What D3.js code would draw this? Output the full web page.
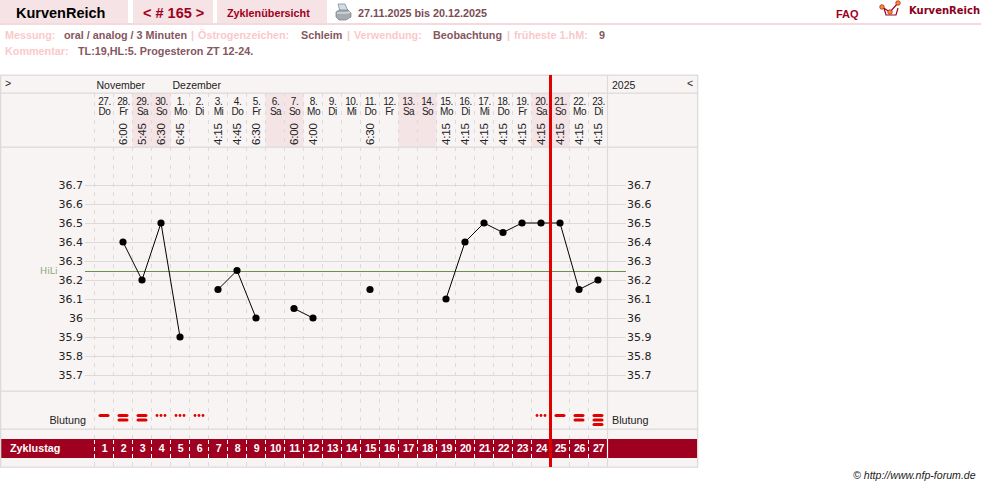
<!DOCTYPE html>
<html lang="de">
<head>
<meta charset="utf-8">
<title>KurvenReich</title>
<script src="https://cdn.jsdelivr.net/npm/d3@7"></script>
<style>
html,body{margin:0;padding:0;background:#fff;overflow:hidden}
svg{display:block}
text{font-family:"Liberation Sans",Arial,sans-serif}
</style>
</head>
<body>
<div id="chart"></div>
<script>
// Zyklusdaten
const cycleDays = d3.range(1, 28);
const dateNumbers = ["27.","28.","29.","30.","1.","2.","3.","4.","5.","6.","7.","8.","9.","10.","11.","12.","13.","14.","15.","16.","17.","18.","19.","20.","21.","22.","23."];
const weekdays = ["Do","Fr","Sa","So","Mo","Di","Mi","Do","Fr","Sa","So","Mo","Di","Mi","Do","Fr","Sa","So","Mo","Di","Mi","Do","Fr","Sa","So","Mo","Di"];
const wakeTimes = ["","6:00","5:45","6:30","6:45","","4:15","4:45","6:30","","6:00","4:00","","","6:30","","","","4:15","4:15","4:15","4:15","4:15","4:15","4:15","4:15","4:15"];
const temperatures = [null,36.4,36.2,36.5,35.9,null,36.15,36.25,36.0,null,36.05,36.0,null,null,36.15,null,null,null,36.1,36.4,36.5,36.45,36.5,36.5,36.5,36.15,36.2];
const bleeding = ["1","2","2","s","s","s","","","","","","","","","","","","","","","","","","s","1","2","3"];
const tempTicks = [35.7,35.8,35.9,36,36.1,36.2,36.3,36.4,36.5,36.6,36.7];
const coverLine = 36.25;
const todayBoundary = 24;
const months = [{label:"November", day:1},{label:"Dezember", day:5}];

const W = 981, H = 487;
const colors = {panel:"#f9f4f4", rule:"#dddbda", weekend:"#f4e4e6", tab:"#f5e3e5", crimson:"#a00020", red:"#e00000", green:"#6b8f4c", muted:"#fac9cb", value:"#85575e"};

const svg = d3.select("#chart").append("svg").attr("width", W).attr("height", H).attr("viewBox", `0 0 ${W} ${H}`);

// Seitenkopf mit Reitern
const tabs = [{x:0,w:128},{x:133,w:80},{x:217,w:110}];
svg.selectAll("rect.tab").data(tabs).join("rect").attr("class","tab")
  .attr("x",d=>d.x).attr("y",0).attr("width",d=>d.w).attr("height",23).attr("fill",colors.tab);
svg.append("rect").attr("x",0).attr("y",23).attr("width",W).attr("height",2).attr("fill","#f5d9dc");

function label(x, y, str, size, fill, weight, anchor){
  return svg.append("text").attr("x",x).attr("y",y).text(str)
    .attr("font-size",size).attr("fill",fill).attr("font-weight",weight||"normal").attr("text-anchor",anchor||"start");
}
label(16,18,"KurvenReich",14.5,"#000","bold");
label(143,18,"< # 165 >",14.5,colors.crimson,"bold");
label(227,17,"Zyklenübersicht",10.8,colors.crimson,"bold");
label(358,17,"27.11.2025 bis 20.12.2025",10.8,"#7c4c55","bold");
label(836,18,"FAQ",11,colors.crimson,"bold");
label(909,14,"KurvenReich",10,"#8b0020","bold").style("font-family",'"DejaVu Sans",sans-serif');

// Drucker-Symbol
const printer = svg.append("g").attr("transform","translate(336,3)");
printer.append("path").attr("d","M2 1H9L12 8H4Z").attr("fill","#cfdde6").attr("stroke","#7f8f9a").attr("stroke-width",.8);
printer.append("path").attr("d","M0 9L3 7H12L15 10V14L10 17H3L0 14Z").attr("fill","#a4acb1").attr("stroke","#747c82").attr("stroke-width",.7);
printer.append("path").attr("d","M1 10H11L14 9").attr("fill","none").attr("stroke","#e8ecee").attr("stroke-width",1.2);

// Logo
const logo = svg.append("g").attr("transform","translate(875,0)");
logo.append("path").attr("d","M9 8L11 15H21L23 8").attr("fill","none").attr("stroke",colors.crimson).attr("stroke-width",1.2);
logo.append("path").attr("d","M7 7L15 12L23 3").attr("fill","none").attr("stroke",colors.crimson).attr("stroke-width",1.2);
logo.selectAll("circle").data([[7,7],[15,12],[23,3]]).join("circle")
  .attr("cx",d=>d[0]).attr("cy",d=>d[1]).attr("r",2.3).attr("fill","#f09020").attr("stroke",colors.crimson).attr("stroke-width",.6);

// Angaben zur Messung
const metaRows = [
  [5,39,"Messung:",1],[64,39,"oral / analog / 3 Minuten",0],[191,39,"|",1],[198,39,"Östrogenzeichen:",1],
  [301,39,"Schleim",0],[347,39,"|",1],[354,39,"Verwendung:",1],[433,39,"Beobachtung",0],[507,39,"|",1],
  [514,39,"früheste 1.hM:",1],[599,39,"9",0],[5,55,"Kommentar:",1],[78,55,"TL:19,HL:5. Progesteron ZT 12-24.",0]
];
metaRows.forEach(r => label(r[0],r[1],r[2],10.8,r[3]?colors.muted:colors.value,"bold"));

// Skalen
const xScale = d3.scaleLinear().domain([0,27]).range([94.5,607.5]);
const xMid = d => xScale(d-0.5);
const yScale = d3.scaleLinear().domain([36,36.7]).range([318,185]);

// Tafel
const panelTop = 75, headA = 93, headB = 147, chartEnd = 391, bleedEnd = 429, bandTop = 439, bandBottom = 458, panelBottom = 467, panelRight = 697;
svg.append("rect").attr("x",0).attr("y",panelTop).attr("width",panelRight).attr("height",panelBottom-panelTop).attr("fill",colors.panel);

// Wochenenden
svg.selectAll("rect.weekend").data(cycleDays.filter((d,i)=>weekdays[i]==="Sa"||weekdays[i]==="So")).join("rect").attr("class","weekend")
  .attr("x",d=>xScale(d-1)).attr("y",headA).attr("width",xScale(1)-xScale(0)).attr("height",headB-headA).attr("fill",colors.weekend);

// Krimson-Band
svg.append("rect").attr("x",0).attr("y",bandTop).attr("width",panelRight).attr("height",bandBottom-bandTop).attr("fill",colors.crimson);

// Tagesraster
const dayGrid = svg.append("g");
dayGrid.selectAll("line.day").data(d3.range(0,27)).join("line").attr("class","day")
  .attr("x1",d=>xScale(d)).attr("x2",d=>xScale(d)).attr("y1",headA).attr("y2",panelBottom)
  .attr("stroke",colors.rule).attr("stroke-dasharray","4 5");
dayGrid.selectAll("line.band").data(d3.range(0,27)).join("line").attr("class","band")
  .attr("x1",d=>xScale(d)).attr("x2",d=>xScale(d)).attr("y1",bandTop).attr("y2",bandBottom)
  .attr("stroke",colors.crimson);
dayGrid.selectAll("line.bandDash").data(d3.range(0,27)).join("line").attr("class","bandDash")
  .attr("x1",d=>xScale(d)).attr("x2",d=>xScale(d)).attr("y1",bandTop+1).attr("y2",bandBottom)
  .attr("stroke","#fff").attr("stroke-dasharray","4 3");

// Horizontale Trennlinien und Rahmen
[panelTop,headA,headB,chartEnd,bleedEnd,panelBottom].forEach(y=>{
  svg.append("rect").attr("x",0).attr("y",y-0.5).attr("width",panelRight+1).attr("height",1.3).attr("fill",colors.rule);
});
[0,panelRight].forEach(x=>svg.append("rect").attr("x",x).attr("y",panelTop).attr("width",1.3).attr("height",panelBottom-panelTop).attr("fill",colors.rule));
svg.append("line").attr("x1",607.5).attr("x2",607.5).attr("y1",panelTop).attr("y2",panelBottom).attr("stroke",colors.rule).attr("stroke-width",1.2);
svg.append("line").attr("x1",607.5).attr("x2",607.5).attr("y1",bandTop).attr("y2",bandBottom).attr("stroke","#fff");

// Temperaturachsen
const axisL = d3.axisLeft(yScale).tickValues(tempTicks).tickFormat(d=>String(d)).tickSize(0).tickPadding(2);
const axisR = d3.axisRight(yScale).tickValues(tempTicks).tickFormat(d=>String(d)).tickSize(0).tickPadding(2);
const gridAxis = d3.axisLeft(yScale).tickValues(tempTicks).tickFormat("").tickSize(-541);
svg.append("g").attr("transform","translate(85,0)").call(gridAxis)
  .call(g=>g.select(".domain").remove())
  .call(g=>g.selectAll("line").attr("stroke",colors.rule));
[[85,axisL],[625,axisR]].forEach(([x,axis])=>{
  svg.append("g").attr("transform",`translate(${x},0)`).call(axis)
    .call(g=>g.select(".domain").remove())
    .call(g=>g.selectAll("text").attr("font-size",11).attr("fill","#222").style("font-family",'"DejaVu Sans",sans-serif'));
});

// Hilfslinie
svg.append("line").attr("x1",85).attr("x2",626).attr("y1",yScale(coverLine)+1).attr("y2",yScale(coverLine)+1).attr("stroke",colors.green);
label(40,274,"HiLi",9.5,"#8fa97a").style("font-family",'"DejaVu Sans",sans-serif');

// Monate und Jahr
months.forEach(m=>label(xScale(m.day-1)+2,89,m.label,10.5,"#222"));
label(612,89,"2025",10.5,"#222");
label(5,87,">",10.5,"#222");
label(687,87,"<",10.5,"#222");

// Kopfzeilen je Tag
svg.append("g").selectAll("text").data(cycleDays).join("text").attr("x",d=>xMid(d)+0.5).attr("y",105)
  .attr("text-anchor","middle").attr("font-size",10).attr("letter-spacing",-0.5).attr("fill","#222").text((d,i)=>dateNumbers[i]);
svg.append("g").selectAll("text").data(cycleDays).join("text").attr("x",d=>xMid(d)+0.5).attr("y",115)
  .attr("text-anchor","middle").attr("font-size",10).attr("letter-spacing",-0.5).attr("fill","#222").text((d,i)=>weekdays[i]);
svg.append("g").selectAll("text").data(cycleDays).join("text")
  .attr("transform",d=>`translate(${xMid(d)+4},145) rotate(-90)`)
  .attr("font-size",11.5).attr("letter-spacing",-0.2).attr("fill","#222").text((d,i)=>wakeTimes[i]);

// Temperaturkurve mit Messlücken
const tempLine = d3.line().defined(d=>d.t!==null).x(d=>xMid(d.day)).y(d=>yScale(d.t));
const tempSeries = cycleDays.map((day,i)=>({day,t:temperatures[i]}));
svg.append("path").datum(tempSeries).attr("d",tempLine).attr("fill","none").attr("stroke","#000").attr("stroke-width",1);
svg.append("g").selectAll("circle").data(tempSeries.filter(d=>d.t!==null)).join("circle")
  .attr("cx",d=>xMid(d.day)).attr("cy",d=>yScale(d.t)).attr("r",3.6).attr("fill","#000");

// Blutung
label(86,424,"Blutung",10.8,"#222","normal","end");
label(612,424,"Blutung",10.8,"#222");
const bleedG = svg.append("g").attr("fill",colors.red);
cycleDays.forEach((day,i)=>{
  const code = bleeding[i];
  if (code === "s") {
    [-4,0,4].forEach(dx=>bleedG.append("circle").attr("cx",xMid(day)+dx).attr("cy",415.5).attr("r",1.4));
  } else if (code) {
    [415.5,420,424.5].slice(0,+code).forEach(y=>bleedG.append("rect")
      .attr("x",xMid(day)-5.5).attr("y",y-1.6).attr("width",11).attr("height",3.2).attr("rx",1.6));
  }
});

// Zyklustag
label(10,452,"Zyklustag",10.8,"#fff","bold");
svg.append("g").selectAll("text").data(cycleDays).join("text").attr("x",d=>xMid(d)+0.5).attr("y",452)
  .attr("text-anchor","middle").attr("font-size",10.6).attr("letter-spacing",-0.3).attr("font-weight","bold").attr("fill","#fff").text(d=>d);

// Markierung des aktuellen Tages
svg.append("line").attr("x1",xScale(todayBoundary)).attr("x2",xScale(todayBoundary)).attr("y1",panelTop).attr("y2",panelBottom)
  .attr("stroke",colors.red).attr("stroke-width",3);

// Fußzeile
label(853,479,"© http://www.nfp-forum.de",10.6,"#222").attr("font-style","italic");
</script>
</body>
</html>
